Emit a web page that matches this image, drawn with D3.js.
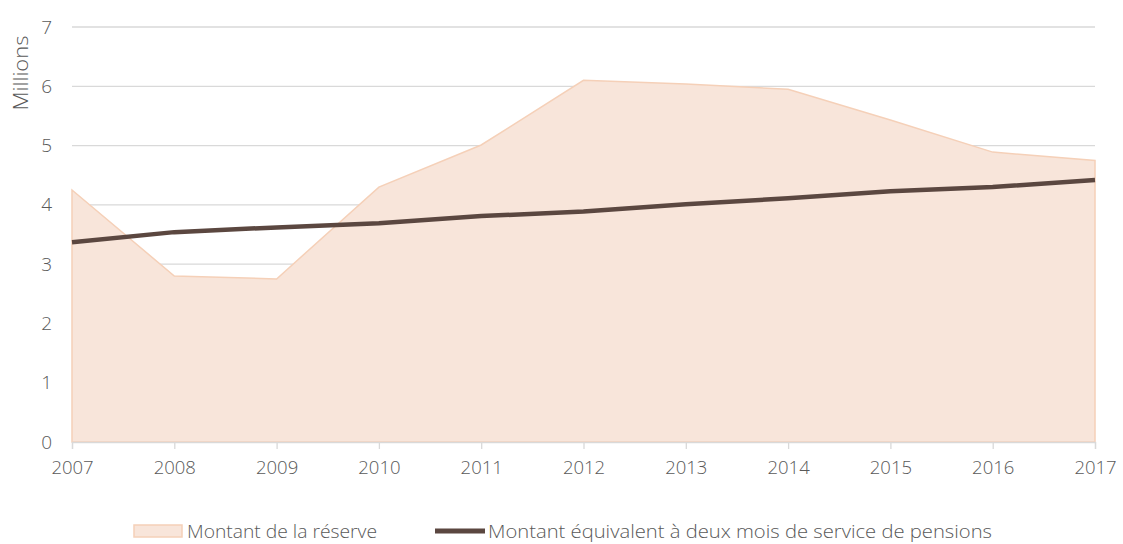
<!DOCTYPE html>
<html>
<head>
<meta charset="utf-8">
<script src="https://cdn.jsdelivr.net/npm/d3@7"></script>
<style>
  body { margin: 0; background: #fff; }
  text { font-family: "Open Sans", sans-serif; font-weight: 300; fill: #595959; }
</style>
</head>
<body>
<div id="chart"></div>
<script>
// data (millions)
var years = [2007, 2008, 2009, 2010, 2011, 2012, 2013, 2014, 2015, 2016, 2017];
var reserve = [4.25, 2.80, 2.75, 4.30, 5.01, 6.10, 6.04, 5.95, 5.43, 4.89, 4.75];
var twoMonths = [3.37, 3.54, 3.62, 3.69, 3.81, 3.89, 4.01, 4.11, 4.23, 4.30, 4.42];
var yTicks = [0, 1, 2, 3, 4, 5, 6, 7];
var legendLabels = ["Montant de la réserve", "Montant équivalent à deux mois de service de pensions"];

var svgWidth = 1123, svgHeight = 544;
var margin = {top: 27, right: 28, bottom: 102, left: 72},
    width = svgWidth - margin.left - margin.right,
    height = svgHeight - margin.top - margin.bottom;

var svg = d3.select("#chart")
  .append("svg")
    .attr("width", svgWidth)
    .attr("height", svgHeight)
  .append("g")
    .attr("transform", "translate(" + margin.left + "," + margin.top + ")");

var x = d3.scaleLinear().domain([2007, 2017]).range([0, width]);
var y = d3.scaleLinear().domain([0, 7]).range([height, 0]);

// gridlines
svg.append("g")
  .selectAll("line")
  .data(yTicks.filter(d => d > 0))
  .join("line")
    .attr("x1", 0).attr("x2", width)
    .attr("y1", d => y(d)).attr("y2", d => y(d))
    .attr("stroke", "#d9d9d9").attr("stroke-width", 1.3);

// area for the reserve
var area = d3.area()
  .x((d, i) => x(years[i]))
  .y0(y(0))
  .y1(d => y(d));
svg.append("path")
  .datum(reserve)
  .attr("d", area)
  .attr("fill", "#f8e5da")
  .attr("stroke", "#f5d0b8")
  .attr("stroke-width", 1.5);

// x axis
var xAxis = svg.append("g")
  .attr("transform", "translate(0," + height + ")")
  .call(d3.axisBottom(x).tickValues(years).tickFormat(d3.format("d")).tickSize(7).tickPadding(12));
xAxis.select(".domain").attr("stroke", "#d9d9d9").attr("stroke-width", 1.3);
xAxis.selectAll(".tick line").attr("stroke", "#d9d9d9").attr("stroke-width", 1.3);
xAxis.selectAll("text").style("font-size", "18.5px").attr("fill", "#595959");

// y axis
var yAxis = svg.append("g")
  .call(d3.axisLeft(y).tickValues(yTicks).tickFormat(d3.format("d")).tickSize(0).tickPadding(20));
yAxis.select(".domain").remove();
yAxis.selectAll("text").style("font-size", "19px").attr("fill", "#595959");

// line
var line = d3.line()
  .x((d, i) => x(years[i]))
  .y(d => y(d));
svg.append("path")
  .datum(twoMonths)
  .attr("d", line)
  .attr("fill", "none")
  .attr("stroke", "#5b4740")
  .attr("stroke-width", 4.5);

// y label
d3.select("svg").append("text")
  .attr("transform", "translate(28,73) rotate(-90)")
  .attr("text-anchor", "middle")
  .attr("textLength", 75)
  .attr("lengthAdjust", "spacingAndGlyphs")
  .style("font-size", "20px")
  .text("Millions");

// legend
var legend = d3.select("svg").append("g").attr("transform", "translate(0,531)");
legend.append("rect")
  .attr("x", 134).attr("y", -6).attr("width", 48).attr("height", 12)
  .attr("fill", "#f8e5da").attr("stroke", "#f5d0b8").attr("stroke-width", 1.5);
legend.append("text")
  .attr("x", 187).attr("dy", "0.36em")
  .attr("textLength", 190)
  .attr("lengthAdjust", "spacingAndGlyphs")
  .style("font-size", "18.5px")
  .text(legendLabels[0]);
legend.append("line")
  .attr("x1", 435).attr("x2", 485)
  .attr("stroke", "#5b4740").attr("stroke-width", 5);
legend.append("text")
  .attr("x", 488).attr("dy", "0.36em")
  .attr("textLength", 504)
  .attr("lengthAdjust", "spacingAndGlyphs")
  .style("font-size", "18.5px")
  .text(legendLabels[1]);
</script>
</body>
</html>
